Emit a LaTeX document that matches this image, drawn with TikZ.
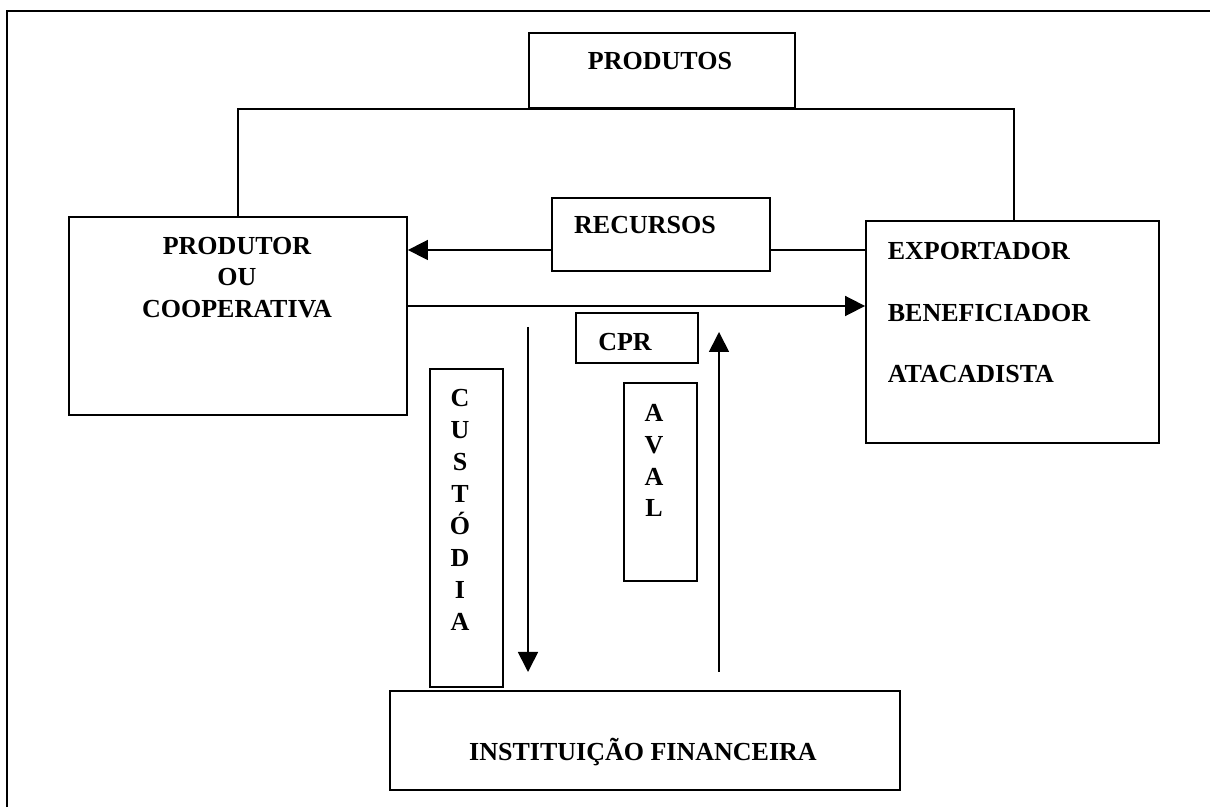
\documentclass[tikz,border=0pt]{standalone}
\usepackage{fontspec}
\setmainfont{Liberation Serif}
\usetikzlibrary{arrows.meta}

\begin{document}
\begin{tikzpicture}[line width=1.2pt, >={Triangle[length=0.5cm,width=0.5cm]}, bnode/.style={draw,line width=1.3pt,inner sep=0pt}, tnode/.style={inner sep=0pt,align=center,font=\bfseries\fontsize{18.5}{22.3}\selectfont}]
    \useasboundingbox (0,0) rectangle (30.25,20.175);
    \coordinate (fa) at (0.175,0);
    \coordinate (fb) at (0.175,19.9);
    \coordinate (fc) at (30.25,19.9);
    \draw (fa) -- (fb) -- (fc);

    \node[bnode, minimum width=6.65cm, minimum height=1.875cm] (prd) at (16.55,18.41) {};
    \node[tnode] (prdt) at (16.5,18.65) {PRODUTOS};
    \node[bnode, minimum width=8.45cm, minimum height=4.95cm] (pc) at (5.95,12.275) {};
    \node[tnode] (pct) at (5.925,13.24) {PRODUTOR\\OU\\COOPERATIVA};
    \node[bnode, minimum width=5.45cm, minimum height=1.825cm] (rec) at (16.525,14.3125) {};
    \node[tnode] (rect) at (16.125,14.55) {RECURSOS};
    \node[bnode, minimum width=7.325cm, minimum height=5.55cm] (ex) at (25.3125,11.875) {};
    \node[tnode, anchor=west, align=left, font=\bfseries\fontsize{18.5}{44}\selectfont] (ext) at (22.175,12.36) {EXPORTADOR\\BENEFICIADOR\\ATACADISTA};
    \node[bnode, minimum width=3.05cm, minimum height=1.25cm] (cpr) at (15.925,11.725) {};
    \node[tnode] (cprt) at (15.625,11.625) {CPR};
    \node[bnode, minimum width=1.825cm, minimum height=7.95cm] (cus) at (11.6625,6.975) {};
    \node[tnode, font=\bfseries\fontsize{18.5}{22.7}\selectfont] (cust) at (11.5,7.425) {C\\U\\S\\T\\Ó\\D\\I\\A};
    \node[bnode, minimum width=1.825cm, minimum height=4.95cm] (av) at (16.5125,8.125) {};
    \node[tnode, font=\bfseries\fontsize{18.5}{22.7}\selectfont] (avt) at (16.35,8.6625) {A\\V\\A\\L};
    \node[bnode, minimum width=12.75cm, minimum height=2.475cm] (inst) at (16.125,1.6625) {};
    \node[tnode] (instt) at (16.075,1.375) {INSTITUIÇÃO FINANCEIRA};

    \coordinate (dn1) at (13.2,12.0);
    \coordinate (dn2) at (13.2,3.375);
    \coordinate (up1) at (17.975,3.375);
    \coordinate (up2) at (17.975,11.875);

    \draw (pc.north -| 5.95,0) |- (prd.south) -| (ex.north -| 25.35,0);
    \draw[->] (rec.west |- 0,13.925) -- (pc.east |- 0,13.925);
    \draw (ex.west |- 0,13.925) -- (rec.east |- 0,13.925);
    \draw[->] (pc.east |- 0,12.525) -- (ex.west |- 0,12.525);
    \draw[->] (dn1) -- (dn2);
    \draw[->] (up1) -- (up2);
\end{tikzpicture}
\end{document}
